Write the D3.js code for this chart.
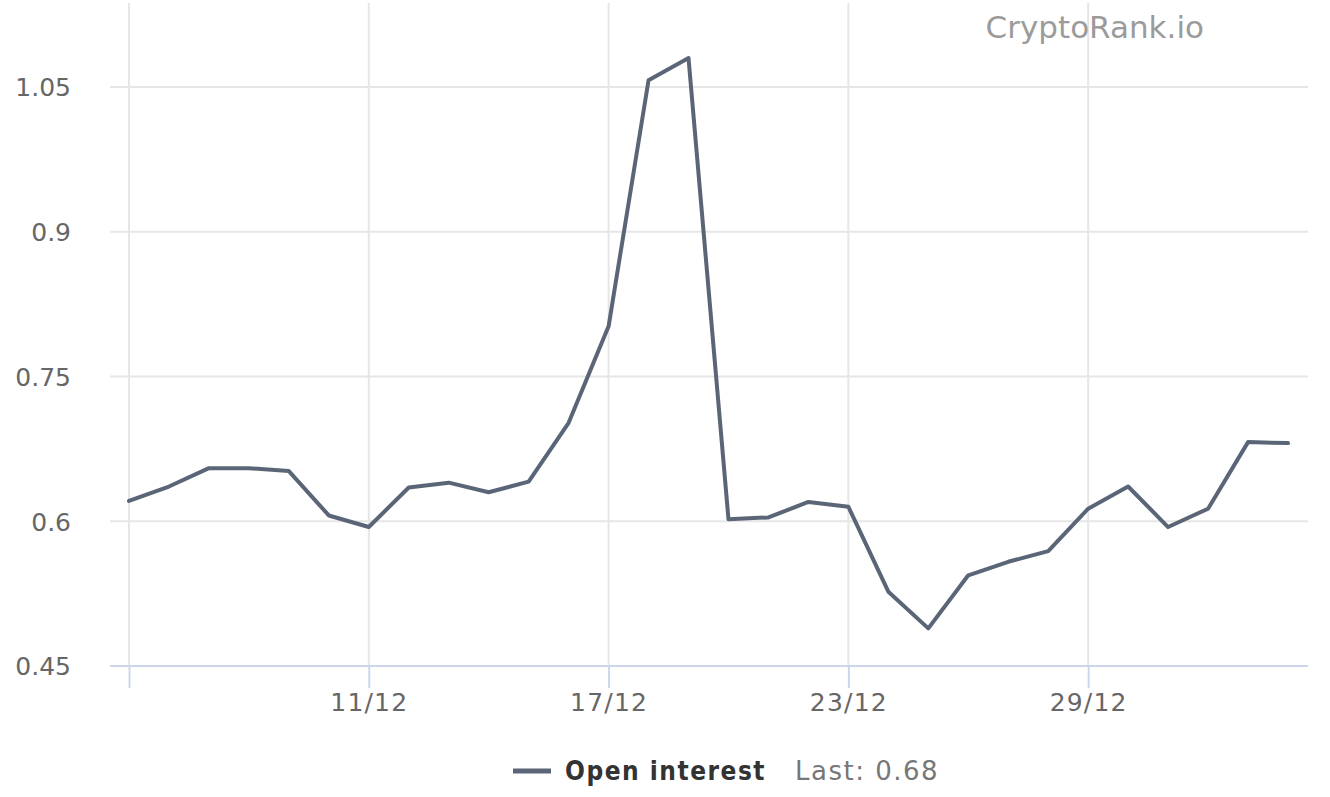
<!DOCTYPE html>
<html>
<head>
<meta charset="utf-8">
<script src="https://cdn.jsdelivr.net/npm/d3@7"></script>
<style>
  html, body { margin: 0; padding: 0; background: #fff; }
  svg { display: block; }
</style>
</head>
<body>
<svg id="chart" width="1330" height="797"></svg>
<script>
const dates = ["2023-12-05","2023-12-06","2023-12-07","2023-12-08","2023-12-09","2023-12-10","2023-12-11","2023-12-12","2023-12-13","2023-12-14","2023-12-15","2023-12-16","2023-12-17","2023-12-18","2023-12-19","2023-12-20","2023-12-21","2023-12-22","2023-12-23","2023-12-24","2023-12-25","2023-12-26","2023-12-27","2023-12-28","2023-12-29","2023-12-30","2023-12-31","2024-01-01","2024-01-02","2024-01-03"];
const openInterest = [0.621,0.636,0.655,0.655,0.652,0.606,0.594,0.635,0.640,0.630,0.641,0.702,0.802,1.057,1.080,0.602,0.604,0.620,0.615,0.527,0.489,0.544,0.558,0.569,0.613,0.636,0.594,0.613,0.682,0.681];
const xTickDates = ["2023-12-05","2023-12-11","2023-12-17","2023-12-23","2023-12-29"];
const xTickLabels = ["","11/12","17/12","23/12","29/12"];
const yTicks = [0.45,0.6,0.75,0.9,1.05];
const yTickLabels = ["0.45","0.6","0.75","0.9","1.05"];
const seriesName = "Open interest";
const lastLabel = "Last: 0.68";

const parse = d3.utcParse("%Y-%m-%d");
const data = dates.map((d, i) => ({ date: parse(d), value: openInterest[i] }));

const svg = d3.select("#chart");
const plotLeft = 110, plotRight = 1308, plotTop = 3, plotBottom = 666;

const x = d3.scaleUtc()
  .domain([parse(dates[0]), parse(dates[dates.length - 1])])
  .range([129, 1288]);
const y = d3.scaleLinear().domain([0.45, 1.05]).range([666, 87]);

const font = "'DejaVu Sans', sans-serif";

// vertical grid lines
svg.append("g").selectAll("line")
  .data(xTickDates.map(parse))
  .join("line")
  .attr("x1", d => x(d)).attr("x2", d => x(d))
  .attr("y1", plotTop).attr("y2", plotBottom)
  .attr("stroke", "#e6e6e6").attr("stroke-width", 2);

// horizontal grid lines
svg.append("g").selectAll("line")
  .data(yTicks.slice(1))
  .join("line")
  .attr("x1", plotLeft).attr("x2", plotRight)
  .attr("y1", d => y(d)).attr("y2", d => y(d))
  .attr("stroke", "#e6e6e6").attr("stroke-width", 2);

// y axis labels
const yAxis = d3.axisLeft(y).tickValues(yTicks).tickSize(0)
  .tickFormat((d, i) => yTickLabels[i]);
const gy = svg.append("g").attr("transform", "translate(82,0)").call(yAxis);
gy.select(".domain").remove();
gy.selectAll("text")
  .attr("x", -11).attr("dy", "0.35em")
  .style("font-family", font).style("font-size", "25px").attr("fill", "#666666");

// x axis
const xAxis = d3.axisBottom(x).tickValues(xTickDates.map(parse)).tickSize(22)
  .tickFormat((d, i) => xTickLabels[i]);
const gx = svg.append("g").attr("transform", `translate(0,${plotBottom})`).call(xAxis);
gx.select(".domain").remove();
gx.selectAll(".tick line").attr("stroke", "#ccd6eb").attr("stroke-width", 2);
gx.selectAll("text")
  .attr("y", 36).attr("dy", "0.35em")
  .style("font-family", font).style("font-size", "25px")
  .style("letter-spacing", "1.2px").attr("fill", "#666666");
svg.append("line")
  .attr("x1", plotLeft).attr("x2", plotRight)
  .attr("y1", plotBottom).attr("y2", plotBottom)
  .attr("stroke", "#ccd6eb").attr("stroke-width", 2);

// watermark
svg.append("text")
  .attr("x", 1204).attr("y", 38)
  .attr("text-anchor", "end")
  .style("font-family", font).style("font-size", "31px")
  .attr("fill", "#9b9b9b")
  .text("CryptoRank.io");

// line
const line = d3.line().x(d => x(d.date)).y(d => y(d.value));
svg.append("path")
  .datum(data)
  .attr("d", line)
  .attr("fill", "none")
  .attr("stroke", "#5a6577")
  .attr("stroke-width", 4)
  .attr("stroke-linejoin", "round")
  .attr("stroke-linecap", "round");

// legend
const lg = svg.append("g");
lg.append("line")
  .attr("x1", 513).attr("x2", 551).attr("y1", 771).attr("y2", 771)
  .attr("stroke", "#5a6577").attr("stroke-width", 5);
lg.append("text")
  .attr("x", 565).attr("y", 780)
  .style("font-family", "'DejaVu Sans Condensed', 'DejaVu Sans', sans-serif")
  .style("font-size", "26px").style("font-weight", "bold")
  .style("letter-spacing", "1.5px")
  .attr("fill", "#333333")
  .text(seriesName);
lg.append("text")
  .attr("x", 795).attr("y", 780)
  .style("font-family", "'DejaVu Sans', sans-serif")
  .style("font-size", "26px")
  .style("letter-spacing", "1.5px")
  .attr("fill", "#777777")
  .text(lastLabel);
</script>
</body>
</html>
